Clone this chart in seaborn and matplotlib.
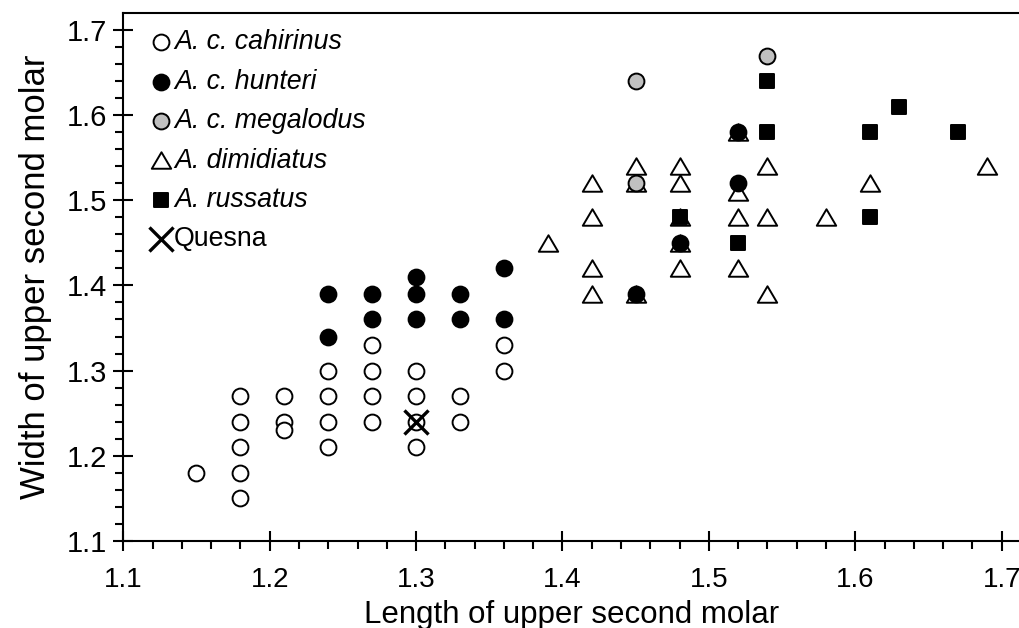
import numpy as np
import pandas as pd
import matplotlib
matplotlib.use("Agg")
import matplotlib.pyplot as plt
from matplotlib.path import Path
import seaborn as sns

# ---- data ----
cahirinus_x = [1.15, 1.18, 1.18, 1.18, 1.18, 1.18, 1.21, 1.21, 1.21, 1.24, 1.24, 1.24, 1.24,
               1.27, 1.27, 1.27, 1.27, 1.30, 1.30, 1.30, 1.30, 1.33, 1.33, 1.36, 1.36]
cahirinus_y = [1.18, 1.27, 1.24, 1.21, 1.18, 1.15, 1.27, 1.24, 1.23, 1.30, 1.27, 1.24, 1.21,
               1.33, 1.30, 1.27, 1.24, 1.30, 1.27, 1.24, 1.21, 1.27, 1.24, 1.33, 1.30]

hunteri_x = [1.24, 1.24, 1.27, 1.27, 1.30, 1.30, 1.30, 1.33, 1.33, 1.36, 1.36, 1.45, 1.48, 1.52, 1.52]
hunteri_y = [1.39, 1.34, 1.39, 1.36, 1.41, 1.39, 1.36, 1.39, 1.36, 1.42, 1.36, 1.39, 1.45, 1.58, 1.52]

megalodus_x = [1.45, 1.45, 1.54]
megalodus_y = [1.64, 1.52, 1.67]

dimidiatus_x = [1.39, 1.42, 1.42, 1.42, 1.42, 1.45, 1.45, 1.45, 1.48, 1.48, 1.48, 1.48,
                1.48, 1.52, 1.52, 1.52, 1.52, 1.54, 1.54, 1.54, 1.58, 1.61, 1.69]
dimidiatus_y = [1.45, 1.52, 1.48, 1.42, 1.39, 1.54, 1.52, 1.39, 1.54, 1.52, 1.48, 1.45,
                1.42, 1.58, 1.51, 1.48, 1.42, 1.54, 1.48, 1.39, 1.48, 1.52, 1.54]

russatus_x = [1.54, 1.54, 1.48, 1.52, 1.61, 1.63, 1.67, 1.61]
russatus_y = [1.64, 1.58, 1.48, 1.45, 1.58, 1.61, 1.58, 1.48]

quesna_x = [1.30]
quesna_y = [1.24]

labels = ["A. c. cahirinus", "A. c. hunteri", "A. c. megalodus", "A. dimidiatus", "A. russatus", "Quesna"]

x_ticks = [1.1, 1.2, 1.3, 1.4, 1.5, 1.6, 1.7]
y_ticks = [1.1, 1.2, 1.3, 1.4, 1.5, 1.6, 1.7]

# ---- style ----
sns.set_style("ticks", {"axes.edgecolor": "black", "xtick.color": "black",
                        "ytick.color": "black", "text.color": "black",
                        "axes.labelcolor": "black"})
plt.rcParams["font.family"] = ["Liberation Sans", "DejaVu Sans"]
plt.rcParams["axes.linewidth"] = 1.5

fig = plt.figure(figsize=(10.19, 6.28), dpi=100)
ax = fig.add_axes([0.121, 0.139, 0.879, 0.840])

tri = Path([(0, 0.85), (-1, -0.85), (1, -0.85), (0, 0.85)],
           [Path.MOVETO, Path.LINETO, Path.LINETO, Path.CLOSEPOLY])

lw = 1.4
def plot(xs, ys, key, marker, face, size):
    df = pd.DataFrame({"x": xs, "y": ys})
    sns.scatterplot(data=df, x="x", y="y", ax=ax, marker=marker, color=face,
                    edgecolor="black", linewidth=lw, s=size, label=key, zorder=3)

plot(cahirinus_x, cahirinus_y, labels[0], "o", "white", 130)
plot(dimidiatus_x, dimidiatus_y, labels[3], tri, "white", 195)
plot(hunteri_x, hunteri_y, labels[1], "o", "black", 130)
plot(megalodus_x, megalodus_y, labels[2], "o", "#c0c0c0", 130)
plot(russatus_x, russatus_y, labels[4], "s", "black", 100)
sns.scatterplot(data=pd.DataFrame({"x": quesna_x, "y": quesna_y}), x="x", y="y", ax=ax,
                marker="x", color="black", linewidth=2.4, s=300, label=labels[5], zorder=4)

ax.set_xlim(1.1, 1.1 + (1019 - 123.3) / 1464)
ax.set_ylim(1.1, 1.72)
ax.set_xticks(x_ticks)
ax.set_yticks(y_ticks)
ax.set_xticklabels([f"{v:.1f}" for v in x_ticks])
ax.set_yticklabels([f"{v:.1f}" for v in y_ticks])
ax.set_xticks(np.arange(1.1, 1.711, 0.02), minor=True)
ax.set_yticks(np.arange(1.1, 1.711, 0.02), minor=True)
ax.tick_params(which="major", direction="inout", length=14, width=1.5, pad=4)
ax.tick_params(axis="x", which="major", labelsize=20, pad=12)
ax.tick_params(axis="y", which="major", labelsize=21, pad=5)
ax.tick_params(which="minor", direction="out", length=6, width=1.5)
ax.spines["right"].set_visible(False)
ax.spines["top"].set_visible(True)

ax.set_xlabel("Length of upper second molar", fontsize=22.5, labelpad=5)
ax.set_ylabel("Width of upper second molar", fontsize=25, labelpad=10)

handles, labs = ax.get_legend_handles_labels()
order = [labs.index(l) for l in labels]
leg = ax.legend([handles[i] for i in order], [labs[i] for i in order],
                loc="upper left", frameon=False, fontsize=19.3, markerscale=1.0,
                handletextpad=0.0, handlelength=1.0, labelspacing=0.5,
                borderaxespad=0.3, bbox_to_anchor=(0.006, 1.005))
for t in leg.get_texts():
    if t.get_text() != "Quesna":
        t.set_fontstyle("italic")

fig.savefig("out.png", dpi=100)
